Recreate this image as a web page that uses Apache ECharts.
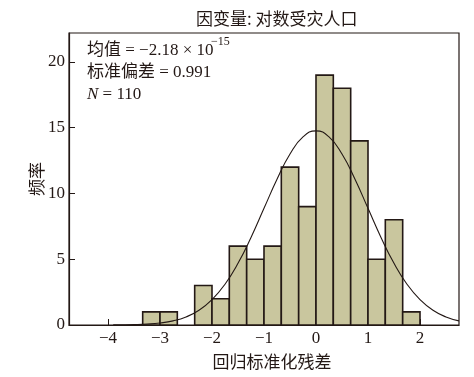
<!DOCTYPE html>
<html>
<head>
<meta charset="utf-8">
<script src="https://cdn.jsdelivr.net/npm/echarts@6/dist/echarts.min.js"></script>
<style>html,body{margin:0;padding:0;background:#fff}#c{width:474px;height:377px}</style>
</head>
<body>
<div id="c"></div>
<script>
// Histogram bins (edges) and counts
const binEdges = [-3.333, -3, -2.667, -2.333, -2, -1.667, -1.333, -1, -0.667, -0.333, 0, 0.333, 0.667, 1, 1.333, 1.667, 2];
const binCounts = [1, 1, 0, 3, 2, 6, 5, 6, 12, 9, 19, 18, 14, 5, 8, 1];
// Fitted normal curve points (x, frequency)
const curveX = [-3.9, -3.75, -3.5, -3.25, -3, -2.75, -2.5, -2.25, -2, -1.75, -1.5, -1.25, -1, -0.75, -0.5, -0.25, 0, 0.25, 0.5, 0.75, 1, 1.25, 1.5, 1.75, 2, 2.25, 2.5, 2.75];
const curveY = [0.006, 0.011, 0.029, 0.068, 0.151, 0.314, 0.613, 1.12, 1.93, 3.10, 4.69, 6.66, 8.87, 11.08, 13.00, 14.30, 14.76, 14.30, 13.00, 11.08, 8.87, 6.66, 4.69, 3.10, 1.93, 1.12, 0.613, 0.314];
const xTicks = [-4, -3, -2, -1, 0, 1, 2];
const yTicks = [0, 5, 10, 15, 20];
const titleText = '因变量: 对数受灾人口';
const xName = '回归标准化残差';
const yName = '频率';
const statMean = '均值 = −2.18 × 10';
const statMeanExp = '−15';
const statSd = '标准偏差 = 0.991';
const statN = '110';

const ink = '#231815';
const serif = '"Liberation Serif", "Noto Sans CJK SC", serif';
const cjk = '"Noto Sans CJK SC", sans-serif';

const barData = binCounts.map((c, i) => [binEdges[i], binEdges[i + 1], c]);
const curveData = curveX.map((x, i) => [x, curveY[i]]);

const chart = echarts.init(document.getElementById('c'), null, {renderer: 'canvas'});
chart.setOption({
  animation: false,
  backgroundColor: '#fff',
  title: {
    text: titleText, left: 191, top: 5,
    textStyle: {fontFamily: cjk, fontSize: 17, fontWeight: 'normal', color: ink}
  },
  grid: {left: 69, right: 15, top: 33, bottom: 52, show: true, borderColor: ink, borderWidth: 1.2, backgroundColor: 'transparent'},
  xAxis: {
    type: 'value', min: -4.75, max: 2.75,
    name: xName, nameLocation: 'middle', nameGap: 28,
    nameTextStyle: {fontFamily: cjk, fontSize: 17, color: ink, padding: [0, 0, 0, 16]},
    axisLine: {show: true, onZero: false, lineStyle: {color: ink, width: 1.2}},
    axisTick: {show: true, inside: true, length: 6, lineStyle: {color: ink}, customValues: xTicks},
    axisLabel: {color: ink, fontFamily: serif, fontSize: 17, margin: 5, customValues: xTicks,
      formatter: v => String(v).replace('-', '−')},
    splitLine: {show: false}
  },
  yAxis: {
    type: 'value', min: 0, max: 22.2,
    name: yName, nameLocation: 'middle', nameGap: 24, nameMoveOverlap: false,
    nameTextStyle: {fontFamily: cjk, fontSize: 17, color: ink},
    axisLine: {show: true, onZero: false, lineStyle: {color: ink, width: 1.2}},
    axisTick: {show: true, inside: true, length: 6, lineStyle: {color: ink}, customValues: yTicks},
    axisLabel: {color: ink, fontFamily: serif, fontSize: 17, margin: 4, customValues: yTicks},
    splitLine: {show: false}
  },
  series: [
    {
      type: 'custom',
      data: barData,
      encode: {x: [0, 1], y: 2},
      renderItem: function (params, api) {
        const c = api.value(2);
        if (!c) return null;
        const p0 = api.coord([api.value(0), c]);
        const p1 = api.coord([api.value(1), 0]);
        return {
          type: 'rect',
          shape: {x: p0[0], y: p0[1], width: p1[0] - p0[0], height: p1[1] - p0[1]},
          style: {fill: '#c9c69e', stroke: ink, lineWidth: 1.6}
        };
      },
      z: 2
    },
    {
      type: 'line', data: curveData, smooth: true, showSymbol: false,
      lineStyle: {color: ink, width: 1.1}, z: 3
    }
  ],
  graphic: [
    {type: 'text', left: 87, top: 42, style: {text: statMean, font: '17px ' + serif, fill: ink}},
    {type: 'text', left: 211, top: 36, style: {text: statMeanExp, font: '12px ' + serif, fill: ink}},
    {type: 'text', left: 87, top: 64, style: {text: statSd, font: '17px ' + serif, fill: ink}},
    {type: 'text', left: 87, top: 86, style: {text: '{i|N} = ' + statN, font: '17px ' + serif, fill: ink,
      rich: {i: {fontStyle: 'italic', fontFamily: serif, fontSize: 17, fill: ink}}}}
  ]
});
</script>
</body>
</html>
